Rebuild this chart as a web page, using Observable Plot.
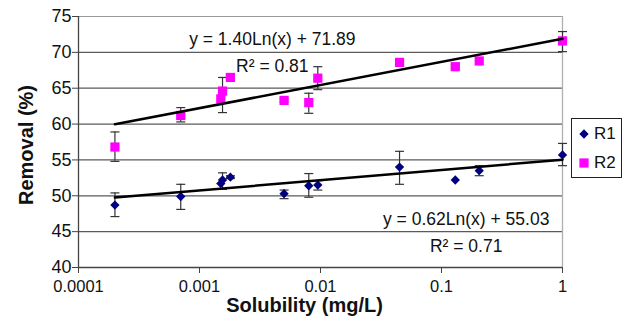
<!DOCTYPE html>
<html><head><meta charset="utf-8">
<script src="https://cdn.jsdelivr.net/npm/d3@7"></script>
<script src="https://cdn.jsdelivr.net/npm/@observablehq/plot@0.6"></script>
<style>
html,body{margin:0;padding:0;background:#fff;}
#chart{position:relative;width:629px;height:329px;}
#legend{position:absolute;left:571px;top:118px;width:49px;height:58px;border:1.2px solid #222;background:#fff;
  font-family:"Liberation Sans",Arial,sans-serif;font-size:17px;color:#111;}
#legend .row{position:absolute;left:0;height:20px;display:flex;align-items:center;}
#legend svg{display:block;}
#ytitle{position:absolute;left:25.5px;top:145px;transform:translate(-50%,-50%) rotate(-90deg);white-space:nowrap;
  font-family:"Liberation Sans",Arial,sans-serif;font-size:20px;font-weight:bold;line-height:20px;color:#111;}
</style></head><body><div id="chart"><div id="ytitle"></div><div id="legend"></div></div>
<script>
// ---- data ----
const solubility = [0.0002, 0.0007, 0.0015, 0.00155, 0.0018, 0.005, 0.008, 0.0095, 0.045, 0.13, 0.205, 1];
const r1   = [48.7, 49.9, 51.7, 52.2, 52.6, 50.3, 51.4, 51.5, 54.0, 52.2, 53.5, 55.7];
const r1Lo = [47.1, 48.1, null, 50.9, 52.4, 49.6, 49.8, 50.8, 51.6, null, 52.8, 54.2];
const r1Hi = [50.4, 51.6, null, 53.2, 52.8, 50.8, 53.1, 52.1, 56.2, null, 54.2, 57.3];
const r2   = [56.8, 61.2, 63.5, 64.6, 66.5, 63.3, 63.0, 66.4, 68.6, 68.0, 68.8, 71.6];
const r2Lo = [54.8, 60.3, null, 61.6, 66.3, 63.1, 61.5, 64.8, 68.4, 67.8, null, 70.1];
const r2Hi = [58.9, 62.3, null, 66.5, 66.7, 63.5, 64.3, 68.0, 68.8, 68.2, null, 72.9];
const seriesNames = ["R1", "R2"];
const seriesColors = ["#000080", "#ff00ff"];
const fitSlope = [0.62, 1.40];
const fitIntercept = [55.03, 71.89];
const fitR2 = [0.71, 0.81];
const fitRange = [0.0002, 1];
const eqX = [0.16, 0.004];
const eqY = [46.7, 71.8];
const r2Y = [42.9, 68.1];
const yTicks = [40, 45, 50, 55, 60, 65, 70, 75];
const xTicks = [0.0001, 0.001, 0.01, 0.1, 1];
const xTickLabels = ["0.0001", "0.001", "0.01", "0.1", "1"];
const xTitle = "Solubility (mg/L)";
const yTitle = "Removal (%)";

// ---- tables ----
const rows = [];
[[r1, r1Lo, r1Hi], [r2, r2Lo, r2Hi]].forEach(([v, lo, hi], k) => {
  solubility.forEach((s, i) => rows.push({s, v: v[i], lo: lo[i], hi: hi[i], series: seriesNames[k]}));
});
const errRows = rows.filter(d => d.lo != null);
const fitLines = [];
seriesNames.forEach((name, k) => fitRange.forEach(x => fitLines.push({series: name, x, y: fitSlope[k] * Math.log(x) + fitIntercept[k]})));
const labels = seriesNames.map((name, k) => ({
  x: eqX[k], y: eqY[k], y2: r2Y[k],
  eq: `y = ${fitSlope[k].toFixed(2)}Ln(x) + ${fitIntercept[k].toFixed(2)}`,
  r2: `R² = ${fitR2[k].toFixed(2)}`
}));

const capSymbol = {draw(ctx, size) { const w = Math.sqrt(size / Math.PI); ctx.moveTo(-w, 0); ctx.lineTo(w, 0); }};
const font = "Liberation Sans, Arial, sans-serif";

const plot = Plot.plot({
  width: 629, height: 329,
  marginLeft: 78, marginRight: 67, marginTop: 16, marginBottom: 62,
  style: {fontFamily: font, fontSize: "16px", background: "white", color: "#111"},
  x: {type: "log", domain: [0.0001, 1]},
  y: {domain: [40, 75]},
  marks: [
    Plot.ruleY(yTicks.slice(1, -1), {stroke: "#5a5a5a", strokeWidth: 1.3}),
    Plot.ruleY(yTicks.slice(-1), {stroke: "#9a9a9a", strokeWidth: 1.2}),
    Plot.ruleX([1], {stroke: "#b0b0b0", strokeWidth: 1.3}),
    Plot.ruleX([0.0001], {stroke: "#444", strokeWidth: 1.3}),
    Plot.ruleY([40], {stroke: "#444", strokeWidth: 1.3}),
    Plot.axisY({ticks: yTicks, tickSize: 6, tickPadding: 1, fontSize: 18, label: null, stroke: "#444", tickFormat: d => String(d)}),
    Plot.axisX({ticks: xTicks, tickSize: 6, tickPadding: 7, fontSize: 16.5, label: null, stroke: "#444",
      tickFormat: d => xTickLabels[xTicks.findIndex(t => Math.abs(t - d) < t * 1e-6)]}),
    Plot.ruleX(errRows, {x: "s", y1: "lo", y2: "hi", stroke: "#333", strokeWidth: 1.2}),
    Plot.dot(errRows, {x: "s", y: "lo", symbol: capSymbol, r: 4.5, stroke: "#333", strokeWidth: 1.2, fill: "none"}),
    Plot.dot(errRows, {x: "s", y: "hi", symbol: capSymbol, r: 4.5, stroke: "#333", strokeWidth: 1.2, fill: "none"}),
    Plot.dot(rows.filter(d => d.series === "R1"), {x: "s", y: "v", symbol: "diamond2", r: 4.2, fill: seriesColors[0]}),
    Plot.dot(rows.filter(d => d.series === "R2"), {x: "s", y: "v", symbol: "square", r: 5.2, fill: seriesColors[1]}),
    Plot.line(fitLines, {x: "x", y: "y", z: "series", stroke: "#000", strokeWidth: 2.5}),
    Plot.text(labels, {x: "x", y: "y", text: "eq", fontSize: 17.5, fill: "#111"}),
    Plot.text(labels, {x: "x", y: "y2", text: "r2", fontSize: 17.5, fill: "#111"}),
    Plot.text([xTitle], {frameAnchor: "bottom", dx: -16, dy: 44, fontSize: 20, fontWeight: "bold", fill: "#111"})
  ]
});
const chart = document.getElementById("chart");
chart.insertBefore(plot, chart.firstChild);
document.getElementById("ytitle").textContent = yTitle;

// legend (HTML overlay)
const legend = d3.select("#legend");
const legSymbols = [d3.symbolDiamond2, d3.symbolSquare];
const legSizes = [Math.PI * 4.2 * 4.2, Math.PI * 5.2 * 5.2];
seriesNames.forEach((name, k) => {
  const row = legend.append("div").attr("class", "row").style("top", `${5 + k * 29}px`);
  const s = row.append("svg").attr("width", 22).attr("height", 20);
  s.append("path").attr("d", d3.symbol(legSymbols[k], legSizes[k])())
    .attr("transform", "translate(12,10)").attr("fill", seriesColors[k]);
  row.append("span").text(name);
});
</script></body></html>
